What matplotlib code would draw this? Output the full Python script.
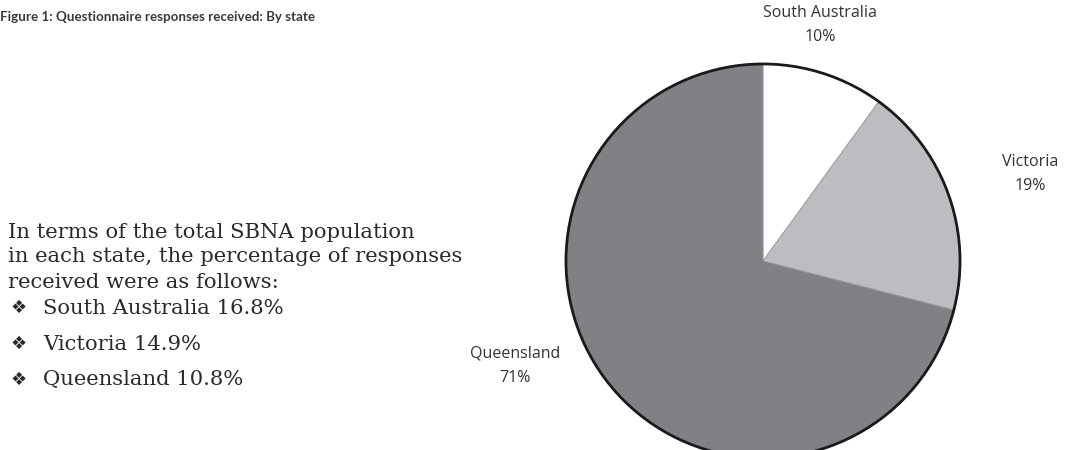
import matplotlib.pyplot as plt

states = ['South Australia', 'Victoria', 'Queensland']
share = [10, 19, 71]
colors = ['#ffffff', '#bcbdc0', '#808184']
resp_rate = [16.8, 14.9, 10.8]

W, H = 1066, 450
fig = plt.figure(figsize=(W / 100, H / 100), dpi=100)

def fx(px):
    return px / W

def fy(py):
    return 1 - py / H

# pie, centre and radius in pixels
cx, cy, r = 763, 261, 199
ax = fig.add_axes([fx(cx - r), fy(cy + r), 2 * r / W, 2 * r / H])
ax.pie(share, colors=colors, startangle=90, counterclock=False, radius=1,
       wedgeprops=dict(linewidth=0.6, edgecolor='#9a9a9c'))
ax.add_patch(plt.Circle((0, 0), 1, fill=False, edgecolor='#1a1a1a', linewidth=2, clip_on=False))
ax.set_xlim(-1.01, 1.01)
ax.set_ylim(-1.01, 1.01)
ax.set_aspect('equal')
ax.axis('off')

# slice labels
lab_pos = [(820, 25), (1030, 174), (515, 366)]
for name, v, (x, y) in zip(states, share, lab_pos):
    fig.text(fx(x), fy(y), f'{name}\n{v}%', ha='center', va='center',
             fontsize=11.5, family='Open Sans', color='#333333', linespacing=1.7)

fig.text(fx(0), fy(17), 'Figure 1: Questionnaire responses received: By state',
         ha='left', va='center', fontsize=9.6, family='Lato',
         fontweight='bold', color='#3a3a3a')

body = ['In terms of the total SBNA population',
        'in each state, the percentage of responses',
        'received were as follows:']
for i, line in enumerate(body):
    fig.text(fx(8), fy(232 + 25 * i), line, ha='left', va='center',
             fontsize=15.2, family='DejaVu Serif', color='#2a2a2a')

for i, (name, v) in enumerate(zip(states, resp_rate)):
    y = fy(308 + 36 * i)
    fig.text(fx(11), y, '\u2756', ha='left', va='center', fontsize=13,
             family='DejaVu Sans', color='#2a2a2a')
    fig.text(fx(43), y, f'{name} {v}%', ha='left', va='center',
             fontsize=15.2, family='DejaVu Serif', color='#2a2a2a')

fig.savefig('out.png', dpi=100)
